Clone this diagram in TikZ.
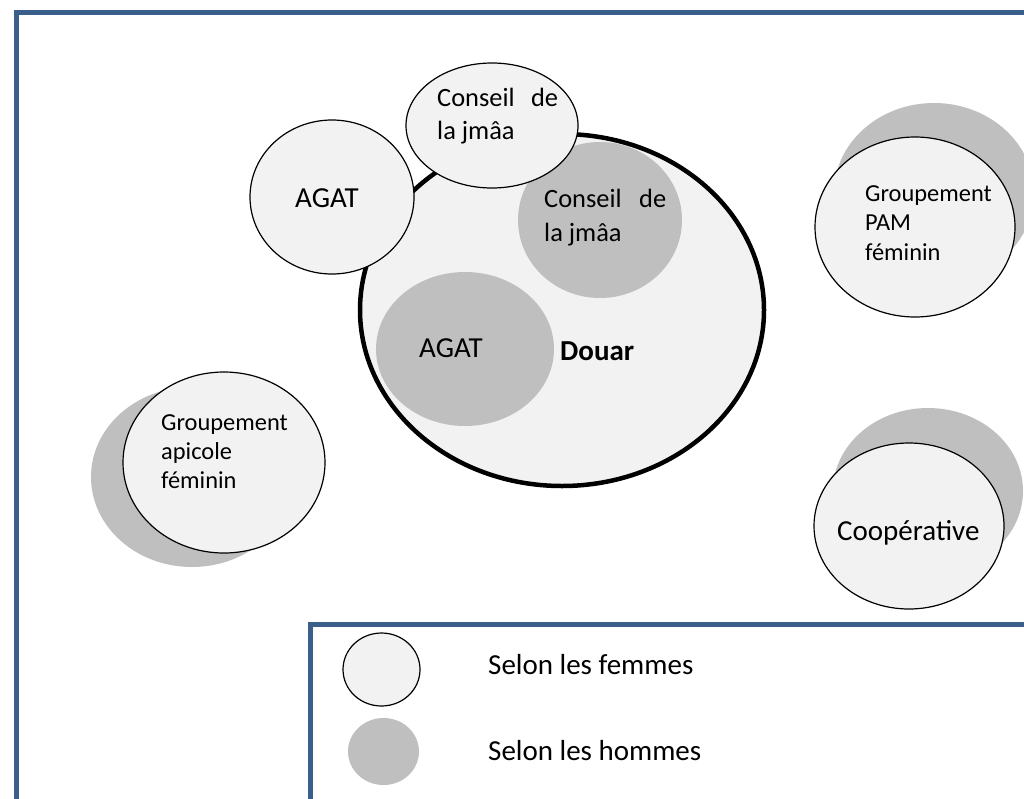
\documentclass[tikz,border=0pt]{standalone}
\usepackage{fontspec}
\setmainfont{Carlito}
\definecolor{lightfill}{HTML}{F2F2F2}
\definecolor{menfill}{HTML}{BFBFBF}
\definecolor{framecol}{HTML}{3A5F8B}
\begin{document}
\begin{tikzpicture}[x=1pt,y=-1pt,
  womenshape/.style={fill=lightfill, draw=black, line width=1.2pt},
  menshape/.style={fill=menfill, draw=none},
  douarshape/.style={fill=lightfill, draw=black, line width=4.5pt},
  framebox/.style={draw=framecol, line width=5pt, line join=miter},
  lbl/.style={anchor=base west, inner sep=0pt, font=\fontsize{29}{35}\selectfont},
  lblc/.style={anchor=base west, inner sep=0pt, font=\fontsize{26.4}{32}\selectfont},
  lblg/.style={anchor=base west, inner sep=0pt, font=\fontsize{24.4}{30}\selectfont}]
\useasboundingbox (0,0) rectangle (1024,798);
\clip (0,0) rectangle (1024,798);
\fill[white] (0,0) rectangle (1024,798);

% outer frame
\draw[framebox] (16.5,830) -- (16.5,12.5) -- (1060,12.5);

% Douar
\draw[douarshape] (562,310) ellipse [x radius=202, y radius=176];
\fill[menshape] (600,220) ellipse [x radius=82, y radius=78];
\fill[menshape] (465,349) ellipse [x radius=89, y radius=77];
\draw[womenshape] (332,197) ellipse [x radius=82, y radius=77];
\draw[womenshape] (492,125.5) ellipse [x radius=86, y radius=62.5];

% Groupement PAM
\fill[menshape] (934,193) ellipse [x radius=100, y radius=90];
\draw[womenshape] (915,227) ellipse [x radius=100, y radius=90];

% Cooperative
\fill[menshape] (928,491) ellipse [x radius=95, y radius=83];
\draw[womenshape] (909,526) ellipse [x radius=95, y radius=83];

% Groupement apicole
\fill[menshape] (192,477) ellipse [x radius=101, y radius=90];
\draw[womenshape] (224,462.5) ellipse [x radius=101, y radius=90.5];

% texts
\node[lblc] (cw1) at (437,106) {\makebox[121pt][s]{Conseil de}};
\node[lblc] (cw2) at (437,139) {la jmâa};
\node[lbl] (aw) at (295,207) {AGAT};
\node[lblc] (cm1) at (544,207) {\makebox[122pt][s]{Conseil de}};
\node[lblc] (cm2) at (544,241) {la jmâa};
\node[lbl] (am) at (419,357) {AGAT};
\node[lbl, font=\fontsize{29}{35}\selectfont\bfseries] (douar) at (560,360) {Douar};

\node[lblg] (p1) at (865,201) {Groupement};
\node[lblg] (p2) at (865,230) {PAM};
\node[lblg] (p3) at (865,260) {féminin};

\node[lbl] (coop) at (837,540) {Coopérative};

\node[lblg] (g1) at (161,430) {Groupement};
\node[lblg] (g2) at (161,459) {apicole};
\node[lblg] (g3) at (161,488) {féminin};

% legend
\fill[white] (310,624.5) rectangle (1060,830);
\draw[framebox] (310,830) -- (310,624.5) -- (1060,624.5);
\draw[womenshape] (381.5,669.5) ellipse [x radius=38.5, y radius=36.5];
\fill[menshape] (383.5,751.5) ellipse [x radius=35.5, y radius=33.5];
\node[lbl] (lf) at (488,674) {Selon les femmes};
\node[lbl] (lh) at (488,760) {Selon les hommes};
\end{tikzpicture}
\end{document}
